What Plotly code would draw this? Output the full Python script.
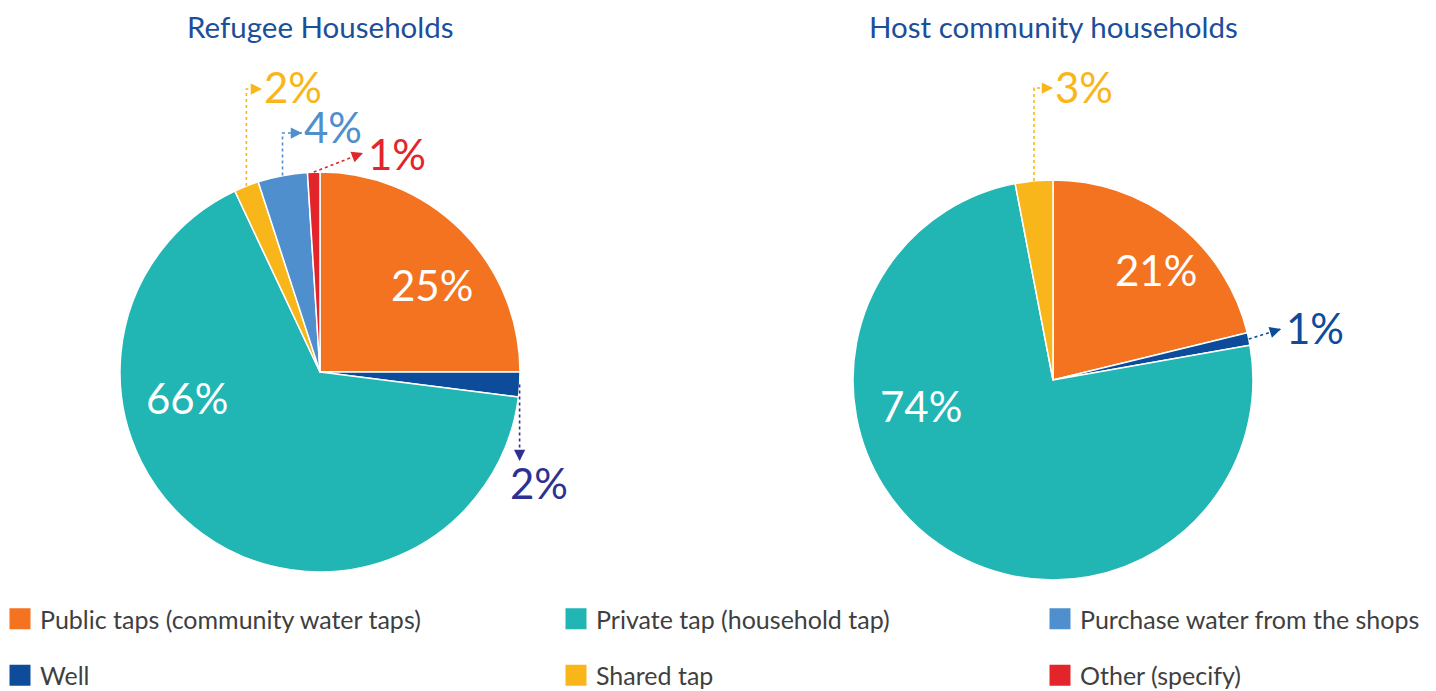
import math
import plotly.graph_objects as go

# ---------------- data ----------------
categories = [
    "Public taps (community water taps)",
    "Well",
    "Private tap (household tap)",
    "Shared tap",
    "Purchase water from the shops",
    "Other (specify)",
]
refugee_values = [25, 2, 66, 2, 4, 1]
host_categories = categories[:4]
host_values = [21, 1, 74, 3]
pie_titles = ["Refugee Households", "Host community households"]
legend_columns = [
    ["Public taps (community water taps)", "Well"],
    ["Private tap (household tap)", "Shared tap"],
    ["Purchase water from the shops", "Other (specify)"],
]

# ---------------- styles ----------------
W, H = 1436, 691
FONT = "Lato"
colors = {
    "Public taps (community water taps)": "#F37321",
    "Well": "#0D4C9B",
    "Private tap (household tap)": "#21B5B3",
    "Shared tap": "#F8B61A",
    "Purchase water from the shops": "#4F8FCE",
    "Other (specify)": "#E3252B",
}
title_color = "#1B4F9B"
legend_text_color = "#3F3F3F"


def px(x):
    return x / W


def py(y):
    return 1 - y / H


# pie geometry (pixels): centre and radius
pies = [
    dict(labels=categories, values=refugee_values, cx=320, cy=372, r=200, title=pie_titles[0]),
    dict(labels=host_categories, values=host_values, cx=1053, cy=380, r=200, title=pie_titles[1]),
]

# inside labels: (pie, category, angle clockwise from 12 o'clock, radius px)
inside_labels = [
    (0, "Public taps (community water taps)", 52, 142),
    (0, "Private tap (household tap)", 259, 135),
    (1, "Public taps (community water taps)", 43, 151),
    (1, "Private tap (household tap)", 259, 134),
]

# callouts: route, arrow tip (px), text anchor (px), text anchors, colour
callouts = [
    dict(pie=0, cat="Shared tap", route="elbow", tip=(262, 89), txt=(262, 87), xa="left", ya="middle", color=colors["Shared tap"]),
    dict(pie=0, cat="Purchase water from the shops", route="elbow", tip=(302, 133), txt=(302, 127), xa="left", ya="middle", color=colors["Purchase water from the shops"]),
    dict(pie=0, cat="Other (specify)", route="straight", tip=(363, 153), txt=(366, 154), xa="left", ya="middle", color=colors["Other (specify)"]),
    dict(pie=0, cat="Well", route="down", tip=(None, 461), txt=(539, 483), xa="center", ya="middle", color="#2E3192"),
    dict(pie=1, cat="Shared tap", route="elbow", tip=(1053, 88), txt=(1053, 87), xa="left", ya="middle", color=colors["Shared tap"]),
    dict(pie=1, cat="Well", route="straight", tip=(1281, 329), txt=(1284, 328), xa="left", ya="middle", color=colors["Well"]),
]

fig = go.Figure()

# ---------------- pies ----------------
for p in pies:
    cx, cy, r = p["cx"], p["cy"], p["r"]
    fig.add_trace(
        go.Pie(
            labels=p["labels"],
            values=p["values"],
            sort=False,
            direction="clockwise",
            rotation=0,
            domain=dict(x=[px(cx - r), px(cx + r)], y=[py(cy + r), py(cy - r)]),
            marker=dict(colors=[colors[c] for c in p["labels"]], line=dict(color="white", width=1.5)),
            textinfo="none",
            showlegend=False,
            hovertemplate="%{label}: %{value}%<extra></extra>",
        )
    )


def slice_mid_angle(p, cat):
    vals = p["values"]
    total = sum(vals)
    i = p["labels"].index(cat)
    start = sum(vals[:i]) / total * 360
    return start + vals[i] / total * 360 / 2


def polar_px(p, ang, rad):
    a = math.radians(ang)
    return p["cx"] + rad * math.sin(a), p["cy"] - rad * math.cos(a)


annotations = []
shapes = []

# titles
for p in pies:
    annotations.append(dict(
        x=px(p["cx"]), y=py(27), xref="paper", yref="paper", text=p["title"], showarrow=False,
        xanchor="center", yanchor="middle", font=dict(family=FONT, size=29.5, color=title_color),
    ))

# inside labels
for pi, cat, ang, rad in inside_labels:
    p = pies[pi]
    val = p["values"][p["labels"].index(cat)]
    x, y = polar_px(p, ang, rad)
    annotations.append(dict(
        x=px(x), y=py(y), xref="paper", yref="paper", text=f"{val}%", showarrow=False,
        xanchor="center", yanchor="middle", font=dict(family=FONT, size=42, color="white"),
    ))

# callouts
for c in callouts:
    p = pies[c["pie"]]
    val = p["values"][p["labels"].index(c["cat"])]
    sx, sy = polar_px(p, slice_mid_angle(p, c["cat"]), p["r"])
    tx, ty = c["tip"]
    if c["route"] == "elbow":
        pts = [(sx, sy), (sx, ty), (tx, ty)]
    elif c["route"] == "down":
        tx = sx
        pts = [(sx, sy), (sx, ty)]
    else:
        pts = [(sx, sy), (tx, ty)]
    path = "M " + " L ".join(f"{px(x):.5f},{py(y):.5f}" for x, y in pts)
    shapes.append(dict(type="path", path=path, xref="paper", yref="paper",
                       line=dict(color=c["color"], width=1.6, dash="dot")))
    (x0, y0), (x1, y1) = pts[-2], pts[-1]
    d = math.hypot(x1 - x0, y1 - y0)
    annotations.append(dict(
        x=px(x1), y=py(y1), xref="paper", yref="paper", text="", showarrow=True,
        ax=(x0 - x1) / d * 6, ay=(y0 - y1) / d * 6, axref="pixel", ayref="pixel",
        arrowhead=2, arrowsize=1.5, arrowwidth=1.5, arrowcolor=c["color"], standoff=0,
    ))
    annotations.append(dict(
        x=px(c["txt"][0]), y=py(c["txt"][1]), xref="paper", yref="paper", text=f"{val}%",
        showarrow=False, xanchor=c["xa"], yanchor=c["ya"],
        font=dict(family=FONT, size=42, color=c["color"]),
    ))

# ---------------- legend (three columns) ----------------
legend_x = [0, 556, 1040]
legend_layout = {}
for i, col in enumerate(legend_columns):
    lname = "legend" if i == 0 else f"legend{i + 1}"
    for cat in col:
        fig.add_trace(go.Scatter(
            x=[None], y=[None], mode="markers", name=cat, legend=lname, legendgroup=cat,
            marker=dict(symbol="square", size=22, color=colors[cat], line=dict(color=colors[cat], width=5)),
            showlegend=True, hoverinfo="skip",
        ))
    legend_layout[lname] = dict(
        x=px(legend_x[i]), xanchor="left", y=py(647), yanchor="middle",
        orientation="v", tracegroupgap=21, bgcolor="rgba(0,0,0,0)",
        font=dict(family=FONT, size=25, color=legend_text_color), itemclick=False, itemdoubleclick=False,
    )

fig.update_layout(
    width=W, height=H,
    margin=dict(l=0, r=0, t=0, b=0, autoexpand=False),
    paper_bgcolor="white", plot_bgcolor="white",
    xaxis=dict(visible=False), yaxis=dict(visible=False),
    annotations=annotations, shapes=shapes,
    font=dict(family=FONT),
    **legend_layout,
)

fig.write_html(
    "out.html",
    config={"displayModeBar": False},
    post_script="document.body.style.margin='0';document.body.style.overflow='hidden';",
)
